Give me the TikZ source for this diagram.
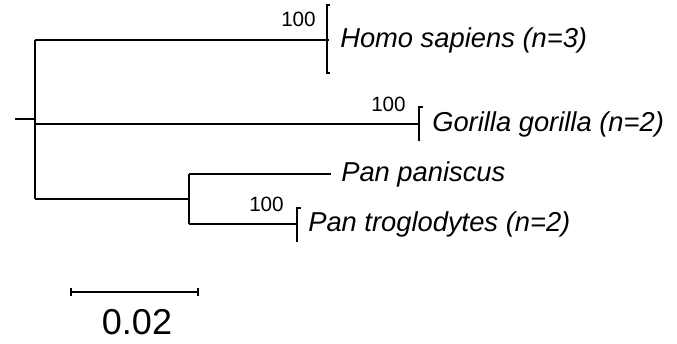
\documentclass[tikz,border=0pt]{standalone}
\usepackage{fontspec}
\setmainfont{Liberation Sans}
\begin{document}
\begin{tikzpicture}[x=0.75pt,y=-0.75pt,
  br/.style={line width=1.6pt},
  taxon/.style={anchor=west,inner sep=0pt,font=\fontsize{20.5}{22}\selectfont\itshape},
  boot/.style={anchor=south east,inner sep=0pt,font=\fontsize{15.5}{17}\selectfont},
  scalelab/.style={anchor=north,inner sep=0pt,font=\fontsize{27}{30}\selectfont}]
\useasboundingbox (0,0) rectangle (677,343);
% coordinates
\coordinate (stub) at (15,119);
\coordinate (rootT) at (35,40);
\coordinate (rootB) at (35,199);
\coordinate (rootG) at (35,124);
\coordinate (rootS) at (35,119);
\coordinate (homo) at (329,40);
\coordinate (gor) at (419,124);
\coordinate (panN) at (189,199);
\coordinate (panT) at (189,174);
\coordinate (panB) at (189,224);
\coordinate (panis) at (331,174);
\coordinate (trog) at (297,224);
% tree
\draw[br] (stub) -- (rootS);
\draw[br] (rootT) -- (rootB);
\draw[br] (rootT) -- (homo);
\draw[br] (rootG) -- (gor);
\draw[br] (rootB) -- (panN);
\draw[br] (panT) -- (panB);
\draw[br] (panT) -- (panis);
\draw[br] (panB) -- (trog);
% brackets
\draw[br] (330,5) -- (327,5) -- (327,73) -- (330,73);
\draw[br] (423,107) -- (419,107) -- (419,141);
\draw[br] (301,208) -- (297,208) -- (297,242);
% labels
\node[taxon] (lh) at (340,40) {Homo sapiens (n=3)};
\node[taxon] (lg) at (432,124) {Gorilla gorilla (n=2)};
\node[taxon] (lp) at (341,174) {Pan paniscus};
\node[taxon] (lt) at (308,224) {Pan troglodytes (n=2)};
\node[boot] (bh) at (316,27) {100};
\node[boot] (bg) at (406,112) {100};
\node[boot] (bt) at (284,212) {100};
% scale bar
\coordinate (sA) at (71,292);
\coordinate (sB) at (198,292);
\draw[br] (sA) -- (sB);
\draw[br] (71,288) -- (71,296);
\draw[br] (198,288) -- (198,296);
\node[scalelab] (sl) at (137,309) {0.02};
\end{tikzpicture}
\end{document}
